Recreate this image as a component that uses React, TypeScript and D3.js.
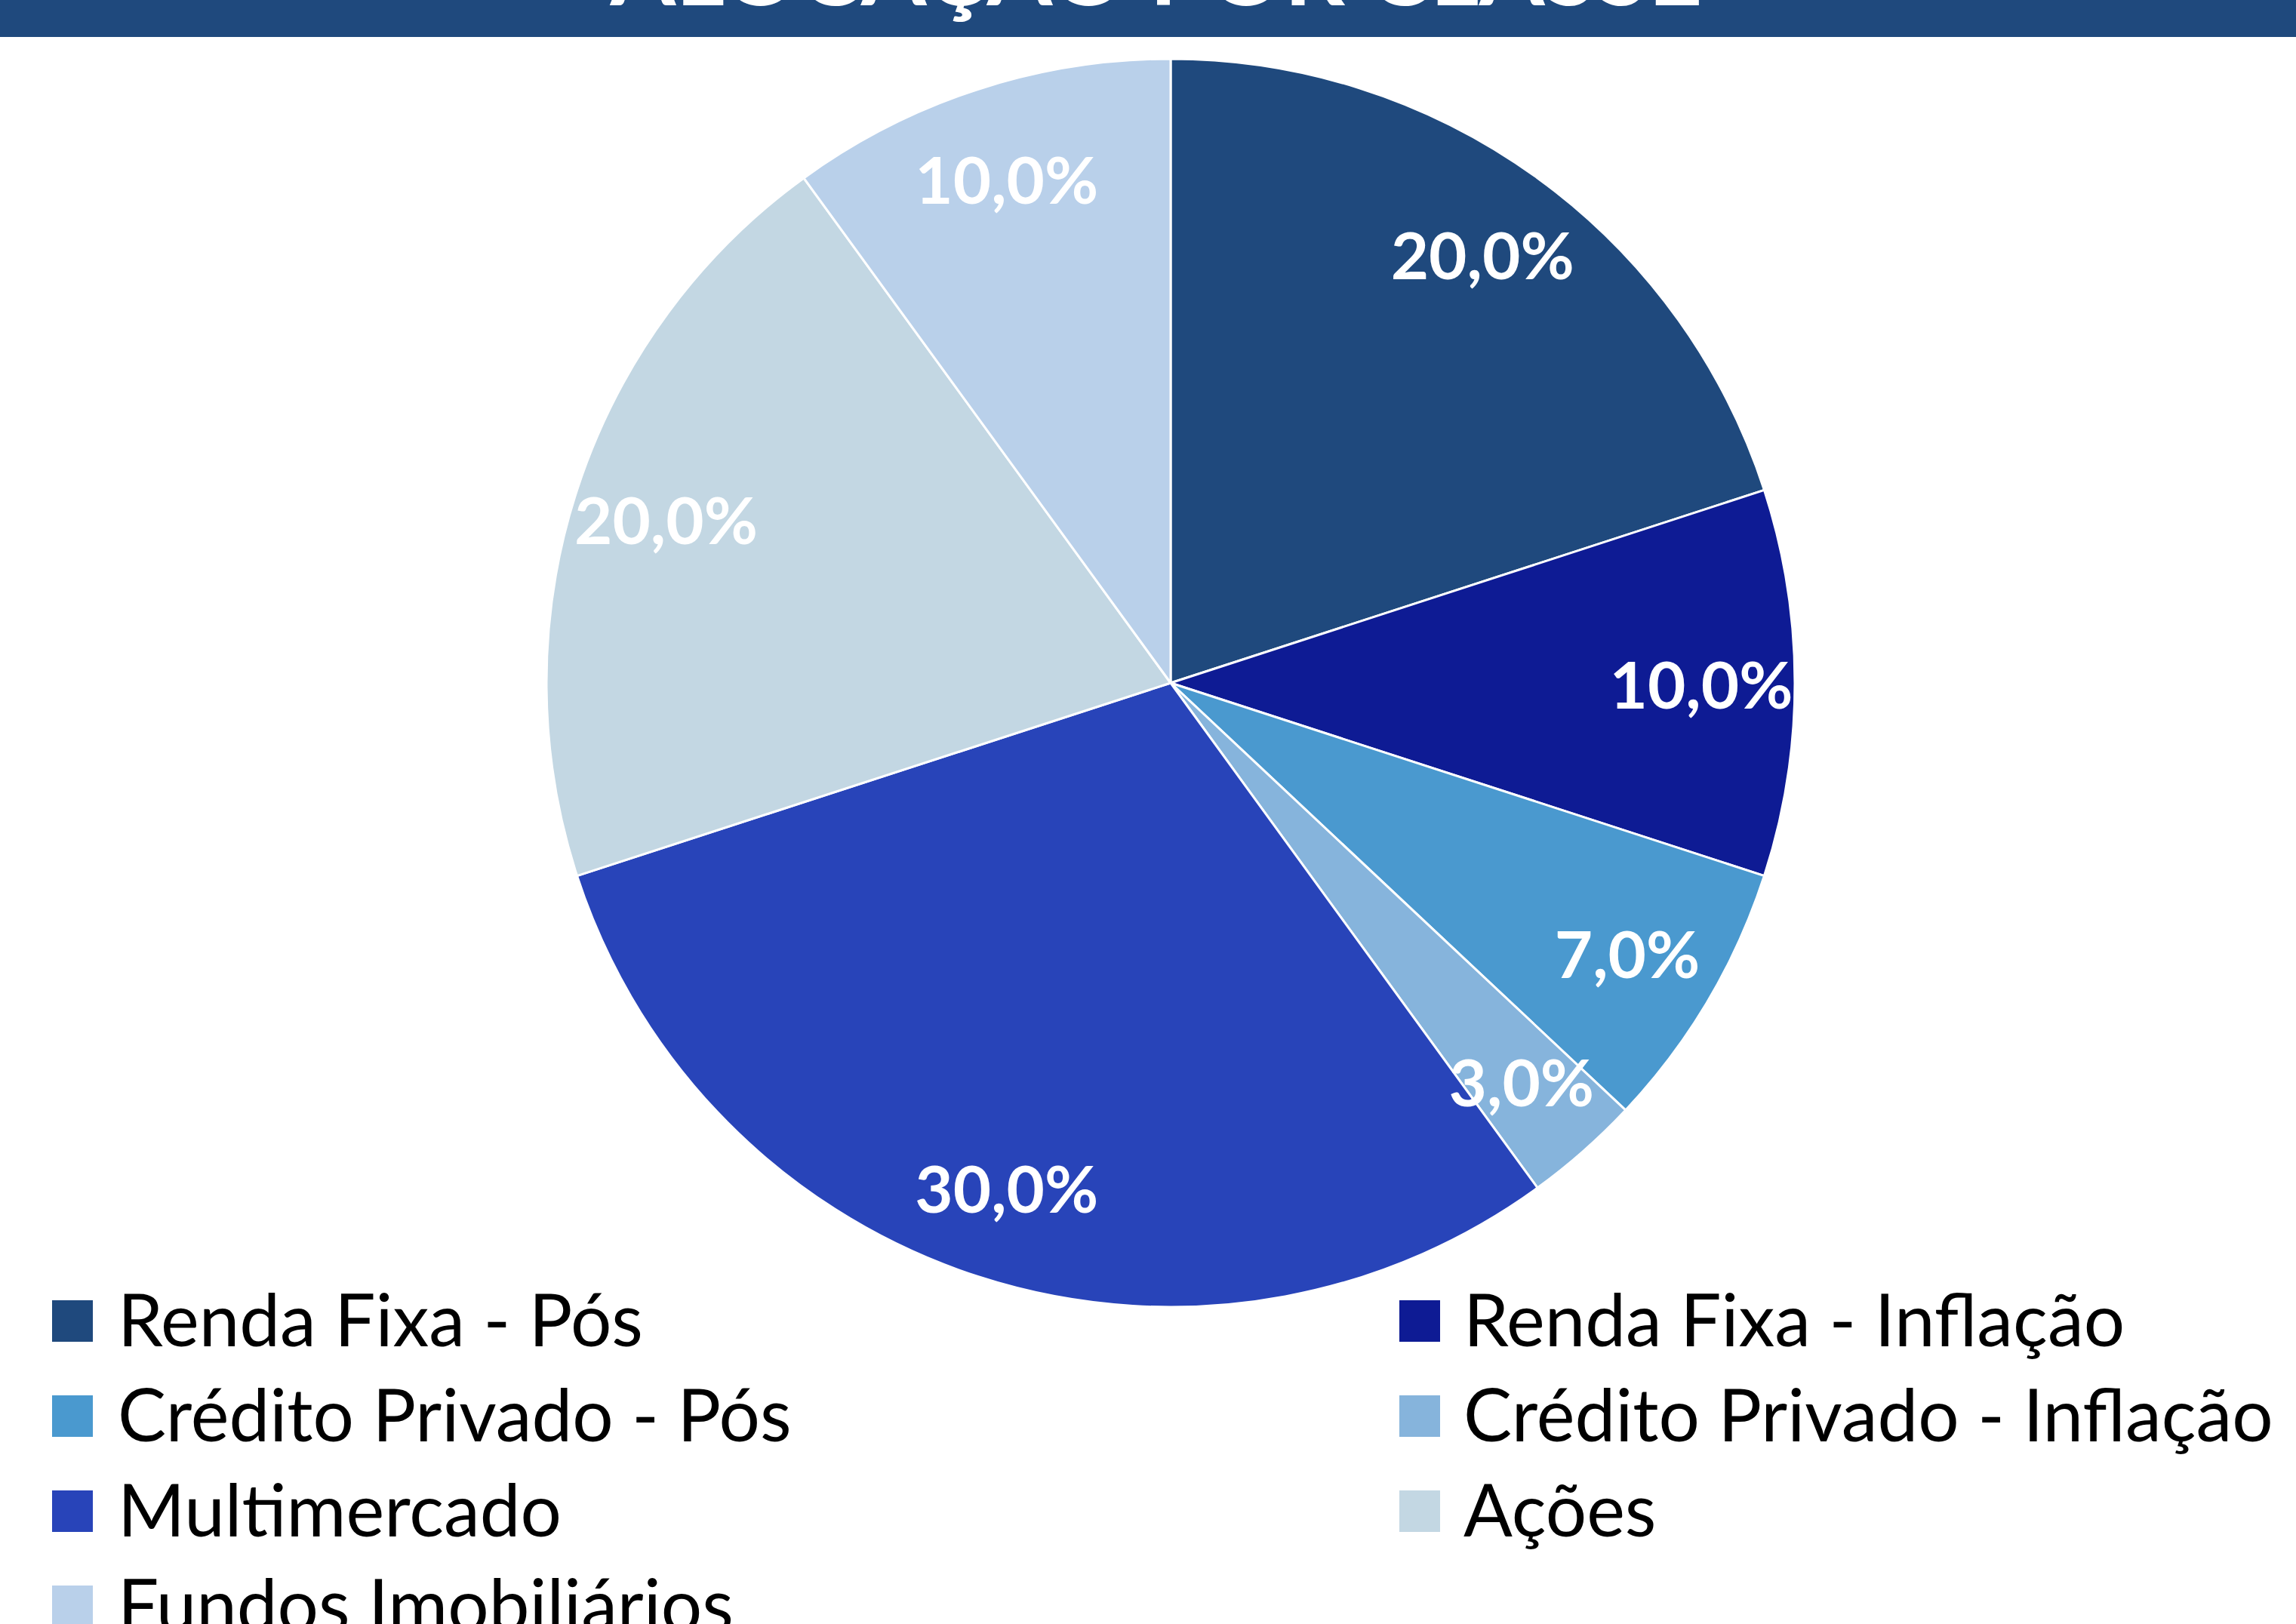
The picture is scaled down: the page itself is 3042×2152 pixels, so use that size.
import React from "react";
import * as d3 from "d3";

const categories = [
  "Renda Fixa - Pós",
  "Renda Fixa - Inflação",
  "Crédito Privado - Pós",
  "Crédito Privado - Inflação",
  "Multimercado",
  "Ações",
  "Fundos Imobiliários",
];
const values = [20, 10, 7, 3, 30, 20, 10];
const colors = ["#1F497D", "#0E1B94", "#4A99CF", "#86B4DC", "#2844B9", "#C3D7E3", "#B9D0EA"];
const title = "ALOCAÇÃO POR CLASSE";

const W = 3042;
const H = 2152;

export default function App() {
  const cx = 1551;
  const cy = 905;
  const R = 827;
  const pie = d3.pie<number>().sort(null).value((d) => d).startAngle(0).endAngle(2 * Math.PI);
  const arcs = pie(values);
  const arcGen = d3.arc<d3.PieArcDatum<number>>().innerRadius(0).outerRadius(R);
  const labelArc = d3.arc<d3.PieArcDatum<number>>().innerRadius(R * 0.85).outerRadius(R * 0.85);
  const fmt = (v: number) => v.toFixed(1).replace(".", ",") + "%";

  const legendX = [69, 1854];
  const legendY0 = 1723;
  const legendStep = 126;

  return (
    <div style={{ position: "fixed", left: 0, top: 0, width: W, height: H, background: "#fff" }}>
      <svg width={W} height={H} viewBox={`0 0 ${W} ${H}`} style={{ display: "block" }}>
        <rect x={0} y={0} width={W} height={H} fill="#fff" />
        <rect x={0} y={0} width={W} height={49} fill="#1F497D" />
        <text
          x={1532}
          y={7}
          textAnchor="middle"
          fill="#fff"
          fontFamily="Lato, 'Open Sans', sans-serif"
          fontWeight={700}
          fontSize={125}
        >
          {title}
        </text>
        <g transform={`translate(${cx},${cy})`}>
          {arcs.map((a, i) => (
            <path key={i} d={arcGen(a) || ""} fill={colors[i]} stroke="#fff" strokeWidth={3} strokeLinejoin="round" />
          ))}
          {arcs.map((a, i) => {
            const [lx, ly] = labelArc.centroid(a);
            return (
              <text
                key={"l" + i}
                x={lx}
                y={ly}
                textAnchor="middle"
                dominantBaseline="central"
                fill="#fff"
                fontFamily="Lato, 'Open Sans', sans-serif"
                fontWeight={700}
                fontSize={87}
              >
                {fmt(values[i])}
              </text>
            );
          })}
        </g>
        {categories.map((c, i) => {
          const col = i % 2;
          const row = Math.floor(i / 2);
          const x = legendX[col];
          const y = legendY0 + row * legendStep;
          return (
            <g key={"lg" + i}>
              <rect x={x} y={y} width={54} height={55} fill={colors[i]} />
              <text
                x={x + (col === 0 ? 87 : 85)}
                y={y + 61}
                fill="#000"
                fontFamily="Lato, 'Open Sans', sans-serif"
                fontSize={96}
              >
                {c}
              </text>
            </g>
          );
        })}
      </svg>
    </div>
  );
}
